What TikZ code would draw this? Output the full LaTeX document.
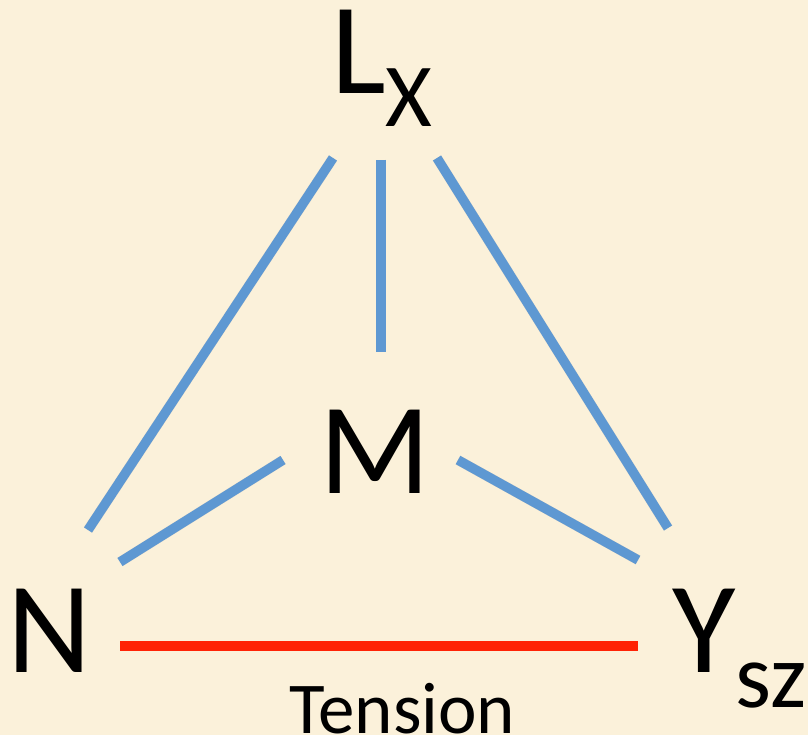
\documentclass[tikz,border=0pt]{standalone}
\usepackage{fontspec}
\setmainfont{Carlito}
\definecolor{bg}{RGB}{251,241,218}
\definecolor{bluel}{RGB}{94,152,210}
\definecolor{redl}{RGB}{255,35,5}
\begin{document}
\begin{tikzpicture}[x=1pt,y=-1pt,
  lbl/.style={inner sep=0pt, anchor=base west, font=\fontsize{130}{130}\selectfont},
  bl/.style={draw=bluel, line width=9.5pt},
  rl/.style={draw=redl, line width=10pt},
  shadow/.style={draw=black!35, opacity=0.3, line width=10pt}]
\fill[bg] (0,0) rectangle (808,735);
\useasboundingbox (0,0) rectangle (808,735);
% labels
\node[lbl] (L) at (331,94) {L\raisebox{-33pt}{\fontsize{90}{90}\selectfont X}};
\node[lbl] (M) at (319,493) {M};
\node[lbl] (N) at (7,672) {N};
\node[lbl] (Y) at (672,672) {Y\raisebox{-35pt}{\fontsize{92}{92}\selectfont sz}};
\node[inner sep=0pt, anchor=base west, font=\fontsize{73}{73}\selectfont] (T) at (289,733) {Tension};
% endpoints
\coordinate (LNa) at (333,158); \coordinate (LNb) at (88,530);
\coordinate (LMa) at (381,160); \coordinate (LMb) at (381,352);
\coordinate (LYa) at (437,158); \coordinate (LYb) at (668,528);
\coordinate (MNa) at (283,460); \coordinate (MNb) at (120,562);
\coordinate (MYa) at (458,460); \coordinate (MYb) at (638,560);
\coordinate (NYa) at (120,646); \coordinate (NYb) at (638,646);
% shadows
\begin{scope}[shift={(2,3)}]
\foreach \a/\b in {LNa/LNb,LMa/LMb,LYa/LYb,MNa/MNb,MYa/MYb,NYa/NYb}
  \draw[shadow] (\a) -- (\b);
\end{scope}
% connectors
\draw[bl] (LNa) -- (LNb);
\draw[bl] (LMa) -- (LMb);
\draw[bl] (LYa) -- (LYb);
\draw[bl] (MNa) -- (MNb);
\draw[bl] (MYa) -- (MYb);
\draw[rl] (NYa) -- (NYb);
\end{tikzpicture}
\end{document}
